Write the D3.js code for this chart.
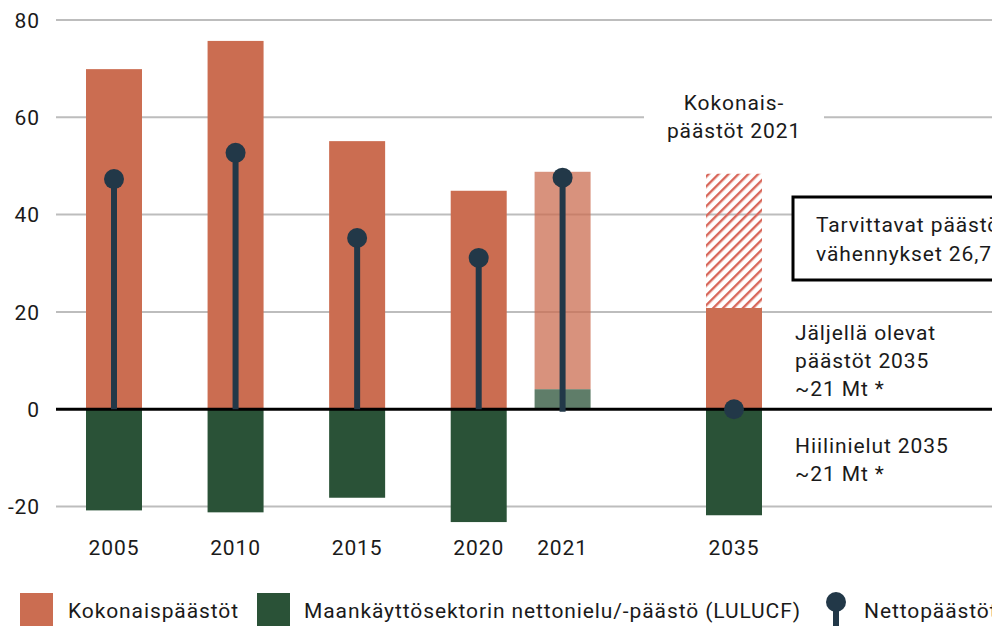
<!DOCTYPE html>
<html>
<head>
<meta charset="utf-8">
<script src="https://cdn.jsdelivr.net/npm/d3@7"></script>
<style>
  body { margin: 0; background: #fff; overflow: hidden; }
  text { font-family: Roboto, "Noto Sans", sans-serif; fill: #1a1a1a; letter-spacing: 0.9px; }
</style>
</head>
<body>
<script>

// chart values (Mt CO2-ekv)
var years = ["2005", "2010", "2015", "2020", "2021", "2035"];
var slots = [0, 1, 2, 3, 3.69, 5.1];            // category spacing along x
var totals = [69.9, 75.7, 55.1, 44.9, 48.8, 20.8]; // Kokonaispäästöt
var lulucf = [-20.8, -21.2, -18.2, -23.2, 4.1, -21.8];
var netto = [47.3, 52.7, 35.2, 31.1, 47.6, 0];
var reductionTop = 48.4;                          // 2035 hatched bar top
var yTicks = [-20, 0, 20, 40, 60, 80];

var width = 992, height = 626;
var orange = "#cb6d51", green = "#2a5237", navy = "#223848";

var svg = d3.select("body").append("svg")
    .attr("width", width)
    .attr("height", height);

// hatch pattern for the reductions bar
var defs = svg.append("defs");
defs.append("pattern")
    .attr("id", "hatch")
    .attr("patternUnits", "userSpaceOnUse")
    .attr("width", 7)
    .attr("height", 7)
    .attr("patternTransform", "rotate(45)")
  .append("rect")
    .attr("width", 2.4)
    .attr("height", 7)
    .attr("fill", "#d8675a");

var x = d3.scaleLinear().domain([0, 5.1]).range([114, 734]);
var y = d3.scaleLinear().domain([-20, 80]).range([506.5, 20]);
var barW = 56;

// gridlines
svg.append("g")
  .selectAll("line")
  .data(yTicks.filter(function(d) { return d != 0; }))
  .enter().append("line")
    .attr("x1", 56)
    .attr("x2", width)
    .attr("y1", function(d) { return y(d); })
    .attr("y2", function(d) { return y(d); })
    .attr("stroke", "#bdbdbd")
    .attr("stroke-width", 2);

// y axis labels (plain hyphen for negatives, like the original)
var yAxis = d3.axisLeft(y).tickValues(yTicks).tickSize(0).tickPadding(0)
    .tickFormat(function(d) { return String(d); });
var gy = svg.append("g")
    .attr("transform", "translate(40,0)")
    .call(yAxis);
gy.select(".domain").remove();
gy.selectAll("text")
    .attr("font-size", "21px")
    .attr("dy", "0.35em")
    .style("fill", "#1a1a1a")
    .style("font-family", "Roboto, sans-serif");

// bars
var bars = svg.append("g");
years.forEach(function(yr, i) {
  var cx = x(slots[i]);
  var op = yr == "2021" ? 0.75 : 1;
  var base = lulucf[i] > 0 ? lulucf[i] : 0;

  if (yr == "2035") {
    bars.append("rect")
      .attr("x", cx - barW / 2)
      .attr("width", barW)
      .attr("y", y(reductionTop))
      .attr("height", y(totals[i]) - y(reductionTop))
      .attr("fill", "url(#hatch)");
  }

  bars.append("rect")
    .attr("x", cx - barW / 2)
    .attr("width", barW)
    .attr("y", y(totals[i]))
    .attr("height", y(base) - y(totals[i]))
    .attr("fill", orange)
    .attr("fill-opacity", op);

  bars.append("rect")
    .attr("x", cx - barW / 2)
    .attr("width", barW)
    .attr("y", y(Math.max(0, lulucf[i])))
    .attr("height", Math.abs(y(lulucf[i]) - y(0)))
    .attr("fill", green)
    .attr("fill-opacity", op);
});

// zero line
svg.append("line")
    .attr("x1", 56)
    .attr("x2", width)
    .attr("y1", y(0))
    .attr("y2", y(0))
    .attr("stroke", "#000")
    .attr("stroke-width", 3);

// net emission lollipops
var net = svg.append("g");
years.forEach(function(yr, i) {
  var cx = x(slots[i]);
  if (netto[i] != 0) {
    net.append("line")
      .attr("x1", cx).attr("x2", cx)
      .attr("y1", yr == "2021" ? y(0) + 2.5 : y(0))
      .attr("y2", y(netto[i]))
      .attr("stroke", navy)
      .attr("stroke-width", 6);
  }
  net.append("circle")
    .attr("cx", cx)
    .attr("cy", y(netto[i]))
    .attr("r", 10)
    .attr("fill", navy);
});

// x labels
svg.append("g")
  .selectAll("text")
  .data(years)
  .enter().append("text")
    .attr("x", function(d, i) { return x(slots[i]); })
    .attr("y", 548)
    .attr("dy", "0.35em")
    .attr("text-anchor", "middle")
    .attr("font-size", "21px")
    .text(function(d) { return d; });

// annotation: Kokonaispäästöt 2021
var x35 = x(slots[5]);
svg.append("rect")
    .attr("x", 644).attr("y", 88)
    .attr("width", 180).attr("height", 58)
    .attr("fill", "#fff");
svg.append("text")
    .attr("x", x35).attr("y", 103).attr("dy", "0.35em")
    .attr("text-anchor", "middle").attr("font-size", "21px")
    .text("Kokonais-");
svg.append("text")
    .attr("x", x35).attr("y", 131).attr("dy", "0.35em")
    .attr("text-anchor", "middle").attr("font-size", "21px")
    .text("päästöt 2021");

// boxed annotation (runs off the right edge, as in the original)
svg.append("rect")
    .attr("x", 793).attr("y", 197)
    .attr("width", 240).attr("height", 83)
    .attr("fill", "#fff")
    .attr("stroke", "#000")
    .attr("stroke-width", 3);
svg.append("text")
    .attr("x", 816).attr("y", 225).attr("dy", "0.35em")
    .attr("font-size", "21px")
    .text("Tarvittavat päästö-");
svg.append("text")
    .attr("x", 816).attr("y", 254).attr("dy", "0.35em")
    .attr("font-size", "21px")
    .text("vähennykset 26,7 Mt");

// side notes
var notes = [["Jäljellä olevat", 333], ["päästöt 2035", 361], ["~21 Mt *", 389],
             ["Hiilinielut 2035", 446], ["~21 Mt *", 474]];
svg.append("g")
  .selectAll("text")
  .data(notes)
  .enter().append("text")
    .attr("x", 795)
    .attr("y", function(d) { return d[1]; })
    .attr("dy", "0.35em")
    .attr("font-size", "21px")
    .text(function(d) { return d[0]; });

// legend
var legend = svg.append("g");
legend.append("rect").attr("x", 20).attr("y", 593).attr("width", 33).attr("height", 33).attr("fill", orange);
legend.append("text").attr("x", 68).attr("y", 611).attr("dy", "0.35em").attr("font-size", "21px")
    .text("Kokonaispäästöt");
legend.append("rect").attr("x", 257).attr("y", 593).attr("width", 33).attr("height", 33).attr("fill", green);
legend.append("text").attr("x", 304).attr("y", 611).attr("dy", "0.35em").attr("font-size", "21px")
    .text("Maankäyttösektorin nettonielu/-päästö (LULUCF)");
legend.append("line").attr("x1", 836).attr("x2", 836).attr("y1", 602).attr("y2", 626)
    .attr("stroke", navy).attr("stroke-width", 6);
legend.append("circle").attr("cx", 836).attr("cy", 602).attr("r", 10).attr("fill", navy);
legend.append("text").attr("x", 864).attr("y", 611).attr("dy", "0.35em").attr("font-size", "21px")
    .text("Nettopäästöt");

</script>
</body>
</html>
